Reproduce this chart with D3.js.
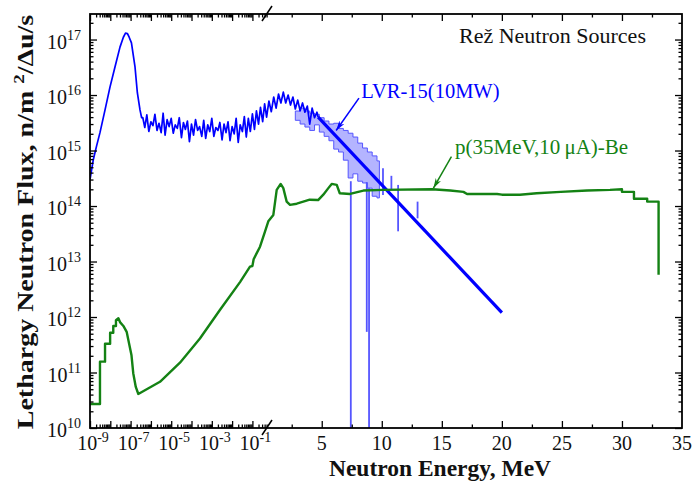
<!DOCTYPE html>
<html lang="en">
<head>
<meta charset="UTF-8">
<title>Rez Neutron Sources</title>
<script src="https://d3js.org/d3.v7.min.js"></script>
<style>
  body { margin: 0; background: #fff; }
  svg text { font-family: "Liberation Serif", "Times New Roman", serif; }
</style>
</head>
<body>
<div id="chart"></div>
<script>
// energies in MeV, flux in n/m^2/Δu/s

// LVR-15 reactor: thermal peak
var thermalE = [1e-9, 1.45e-9, 2.1e-9, 3.1e-9, 5.5e-9, 9.7e-9, 1.7e-8, 3.0e-8, 4.4e-8, 5.6e-8, 7.0e-8, 8.5e-8, 1.1e-7, 1.65e-7, 2.15e-7, 2.9e-7, 3.5e-7];
var thermalFlux = [3.0e14, 6.8e14, 1.2e15, 2.1e15, 5.4e15, 1.4e16, 3.2e16, 7.3e16, 1.1e17, 1.3e17, 1.28e17, 1.1e17, 8.7e16, 3.2e16, 1.1e16, 5.4e15, 3.9e15];

// LVR-15 reactor: epithermal plateau (noisy)
var epiE = [4.0e-7, 5.0e-7, 6.3e-7, 7.9e-7,
  1.0e-6, 1.26e-6, 1.58e-6, 2.0e-6, 2.5e-6, 3.2e-6, 4.0e-6, 5.0e-6, 6.3e-6, 7.9e-6,
  1.0e-5, 1.26e-5, 1.58e-5, 2.0e-5, 2.5e-5, 3.2e-5, 4.0e-5, 5.0e-5, 6.3e-5, 7.9e-5,
  1.0e-4, 1.26e-4, 1.58e-4, 2.0e-4, 2.5e-4, 3.2e-4, 4.0e-4, 5.0e-4, 6.3e-4, 7.9e-4,
  1.0e-3, 1.26e-3, 1.58e-3, 2.0e-3, 2.5e-3, 3.2e-3, 4.0e-3, 5.0e-3, 6.3e-3, 7.9e-3,
  1.0e-2, 1.26e-2, 1.58e-2, 2.0e-2, 2.5e-2, 3.2e-2, 4.0e-2, 5.0e-2, 6.3e-2, 7.9e-2,
  0.10, 0.126, 0.158, 0.20, 0.25, 0.32, 0.40, 0.50];
var epiFlux = [3.9e15, 2.6e15, 4.4e15, 2.2e15,
  3.3e15, 2.8e15, 4.5e15, 2.3e15, 3.1e15, 2.1e15, 4.7e15, 1.9e15, 3.6e15, 2.7e15,
  3.8e15, 2.05e15, 2.9e15, 2.5e15, 3.9e15, 1.7e15, 3.2e15, 2.4e15, 3.4e15, 1.45e15,
  3.0e15, 1.9e15, 3.6e15, 2.3e15, 2.7e15, 1.8e15, 3.5e15, 1.65e15, 2.9e15, 2.2e15,
  3.8e15, 1.8e15, 2.6e15, 2.3e15, 3.2e15, 1.55e15, 3.0e15, 2.1e15, 3.3e15, 1.5e15,
  2.7e15, 2.0e15, 3.8e15, 1.4e15, 2.9e15, 2.2e15, 4.1e15, 1.75e15, 3.8e15, 2.2e15,
  4.6e15, 2.4e15, 5.2e15, 3.0e15, 6.0e15, 3.3e15, 6.9e15, 4.0e15];

// LVR-15 reactor: fast part up to the fit line
var fastE = [0.6, 0.8, 1.0, 1.2, 1.4, 1.6, 1.8, 2.0, 2.2, 2.4, 2.6, 2.8, 3.0, 3.2, 3.4, 3.6, 3.8, 4.0, 4.2, 4.4, 4.6, 4.7];
var fastFlux = [7.8e15, 5.0e15, 9.2e15, 5.8e15, 1.04e16, 7.2e15, 1.13e16, 7.2e15, 1.0e16, 6.6e15, 9.2e15, 5.6e15, 8.1e15, 5.2e15, 7.2e15, 4.9e15, 6.3e15, 3.0e15, 5.8e15, 3.9e15, 4.9e15, 4.0e15];

// exponential fit of the fission tail
var fitE = [4.7, 20];
var fitFlux = [4.0e15, 1.2e12];

// uncertainty band of the measured fast spectrum
var bandE = [2.8, 3.2, 3.6, 4.0, 4.4, 4.8, 5.2, 5.6, 6.0, 6.4, 6.8, 7.2, 7.6, 8.0, 8.4, 8.8, 9.2, 9.6, 9.8];
var bandHigh = [5.15e15, 5.8e15, 5.15e15, 4.7e15, 4.5e15, 3.9e15, 3.4e15, 3.0e15, 3.1e15, 2.5e15, 2.3e15, 2.05e15, 1.75e15, 1.36e15, 1.11e15, 9.4e14, 8.0e14, 6.5e14, 6.5e14];
var bandLow = [3.5e15, 3.0e15, 2.65e15, 2.3e15, 2.9e15, 2.15e15, 1.8e15, 1.5e15, 1.06e15, 9.4e14, 6.7e14, 3.2e14, 3.8e14, 2.8e14, 2.6e14, 2.1e14, 1.5e14, 1.4e14, 1.4e14];

// dips of the band (vertical spikes)
var spikeE = [7.42, 8.75, 8.94, 10.1, 10.8, 11.36, 12.98];
var spikeTop = [2.8e14, 2.7e14, 2.1e14, 4.8e14, 3.5e14, 2.4e14, 1.2e14];
var spikeBottom = [1e10, 5.4e11, 1e10, 1.58e14, 1.95e14, 3.5e13, 6.0e13];

// p(35MeV,10uA)-Be source
var pbeE = [1e-9, 3.1e-9, 3.1e-9, 5.5e-9, 5.5e-9, 9.8e-9, 9.8e-9, 1.4e-8, 1.4e-8, 1.9e-8, 1.9e-8, 2.5e-8, 3.0e-8, 4.4e-8, 6.4e-8, 7.7e-8, 1.1e-7, 1.35e-7, 1.8e-7, 2.4e-7,
  2.8e-6, 2.7e-5, 2.6e-4, 2.5e-3, 0.025, 0.076, 0.10, 0.115, 0.237, 0.42,
  0.55, 0.97, 1.25, 1.58, 1.8, 2.08, 2.36, 2.92, 4.0, 4.7, 5.13, 5.55, 5.83, 6.25, 6.5, 7.36, 8.47, 10.1,
  14.2, 15.7, 16.8, 17.1, 19.6, 20.0, 21.5, 22.9, 24.9, 27.1, 29.0, 30.0, 30.0, 31.0, 31.0, 32.1, 32.1, 33.05, 33.05];
var pbeFlux = [2.7e10, 2.7e10, 1.57e11, 1.57e11, 3.3e11, 3.3e11, 5.2e11, 5.2e11, 6.9e11, 6.9e11, 8.8e11, 9.5e11, 8.1e11, 6.9e11, 5.4e11, 3.9e11, 2.07e11, 9.7e10, 5.5e10, 4.1e10,
  6.8e10, 1.5e11, 4.1e11, 1.34e12, 4.3e12, 8.1e12, 8.3e12, 1.1e13, 1.85e13, 3.5e13,
  5.3e13, 6.9e13, 1.95e14, 2.5e14, 2.1e14, 1.2e14, 1.05e14, 1.1e14, 1.3e14, 1.28e14, 1.6e14, 2.1e14, 2.5e14, 2.4e14, 1.7e14, 1.65e14, 1.9e14, 1.95e14,
  2.0e14, 1.9e14, 1.8e14, 1.65e14, 1.65e14, 1.6e14, 1.6e14, 1.7e14, 1.8e14, 1.9e14, 1.95e14, 2.0e14, 1.8e14, 1.8e14, 1.35e14, 1.35e14, 1.2e14, 1.2e14, 5.8e12];

// axis ticks
var logMajor = [1e-9, 1e-8, 1e-7, 1e-6, 1e-5, 1e-4, 1e-3, 1e-2, 1e-1];
var logLabels = [-9, -7, -5, -3, -1];
var linMajor = [5, 10, 15, 20, 25, 30, 35];
var linMinor = [2.5, 7.5, 12.5, 17.5, 22.5, 27.5, 32.5];
var yMajorExp = [10, 11, 12, 13, 14, 15, 16, 17];

var width = 692, height = 485;
var L = 90, R = 682, T = 14, B = 428;
var eBreak = 0.5, xBreak = 267;

var svg = d3.select("#chart").append("svg")
  .attr("width", width)
  .attr("height", height);

// broken x axis: log up to 0.5 MeV, linear after
var xLog = d3.scaleLog().domain([1e-9, eBreak]).range([L, 266.6]);
var xLin = d3.scaleLinear().domain([eBreak, 35]).range([267.7, R]);
var y = d3.scaleLog().domain([1e10, Math.pow(10, 17.46)]).range([B, T]);
function xPos(e) { return e <= eBreak ? xLog(e) : xLin(e); }

var blue = "#0000ff", lightBlue = "#5555ff", green = "#148214";

var defs = svg.append("defs");
defs.append("clipPath").attr("id", "plot")
  .append("rect").attr("x", L).attr("y", T).attr("width", R - L).attr("height", B - T);
function marker(id, color) {
  defs.append("marker").attr("id", id)
    .attr("viewBox", "0 0 10 6").attr("refX", 10).attr("refY", 3)
    .attr("markerWidth", 10).attr("markerHeight", 6)
    .attr("markerUnits", "userSpaceOnUse").attr("orient", "auto")
    .append("path").attr("d", "M0,0L10,3L0,6L3,3Z").attr("fill", color);
}
marker("arrBlue", blue);
marker("arrGreen", green);

function pairs(es, fs) { return es.map(function(e, i) { return [e, fs[i]]; }); }

var line = d3.line().x(function(d) { return xPos(d[0]); }).y(function(d) { return y(d[1]); });

var plot = svg.append("g").attr("clip-path", "url(#plot)");

// band
var bandData = bandE.map(function(e, i) { return [e, bandHigh[i], bandLow[i]]; });
var area = d3.area().curve(d3.curveStepAfter)
  .x(function(d) { return xPos(d[0]); })
  .y0(function(d) { return y(d[2]); })
  .y1(function(d) { return y(d[1]); });
plot.append("path").datum(bandData).attr("d", area)
  .attr("fill", "#b4b4ff").attr("stroke", lightBlue).attr("stroke-width", 1);

// spikes
plot.selectAll("line.spike").data(spikeE).enter().append("line")
  .attr("class", "spike")
  .attr("x1", function(d) { return xPos(d); }).attr("x2", function(d) { return xPos(d); })
  .attr("y1", function(d, i) { return y(spikeTop[i]); })
  .attr("y2", function(d, i) { return y(spikeBottom[i]); })
  .attr("stroke", lightBlue).attr("stroke-width", 1.8);

// reactor spectrum
var lvr = pairs(thermalE, thermalFlux).concat(pairs(epiE, epiFlux), pairs(fastE, fastFlux));
plot.append("path").datum(lvr).attr("d", line)
  .attr("fill", "none").attr("stroke", blue).attr("stroke-width", 1.7).attr("stroke-linejoin", "round");

// fit line
plot.append("path").datum(pairs(fitE, fitFlux)).attr("d", line)
  .attr("fill", "none").attr("stroke", blue).attr("stroke-width", 3.2);

// p-Be
plot.append("path").datum(pairs(pbeE, pbeFlux)).attr("d", line)
  .attr("fill", "none").attr("stroke", green).attr("stroke-width", 2.4).attr("stroke-linejoin", "round");

// axes (ticks inward)
function minorLog(lo, hi, maxV) {
  var out = [];
  for (var p = lo; p <= hi; p++) for (var m = 2; m <= 9; m++) {
    var v = m * Math.pow(10, p);
    if (v <= maxV) out.push(v);
  }
  return out;
}
var logMinor = minorLog(-9, -1, eBreak);
var yMajor = yMajorExp.map(function(p) { return Math.pow(10, p); });
var yMinor = minorLog(10, 17, Math.pow(10, 17.46));

function drawAxis(gen, tx, ty, vals, size) {
  var g = svg.append("g").attr("transform", "translate(" + tx + "," + ty + ")")
    .call(gen.tickValues(vals).tickSize(-size).tickFormat(""));
  g.select(".domain").remove();
  g.selectAll("line").attr("stroke", "#000").attr("stroke-width", 1.3);
}
drawAxis(d3.axisBottom(xLog), 0, B, logMajor, 7);
drawAxis(d3.axisBottom(xLog), 0, B, logMinor, 3.5);
drawAxis(d3.axisTop(xLog), 0, T, logMajor, 7);
drawAxis(d3.axisTop(xLog), 0, T, logMinor, 3.5);
drawAxis(d3.axisBottom(xLin), 0, B, linMajor.slice(0, -1), 7);
drawAxis(d3.axisBottom(xLin), 0, B, linMinor, 3.5);
drawAxis(d3.axisTop(xLin), 0, T, linMajor.slice(0, -1), 7);
drawAxis(d3.axisTop(xLin), 0, T, linMinor, 3.5);
drawAxis(d3.axisLeft(y), L, 0, yMajor, 7);
drawAxis(d3.axisLeft(y), L, 0, yMinor, 3.5);
drawAxis(d3.axisRight(y), R, 0, yMajor, 7);
drawAxis(d3.axisRight(y), R, 0, yMinor, 3.5);

svg.append("rect").attr("x", L).attr("y", T).attr("width", R - L).attr("height", B - T)
  .attr("fill", "none").attr("stroke", "#000").attr("stroke-width", 1.8);

// break marks
[T, B].forEach(function(yy) {
  svg.append("line").attr("x1", xBreak - 5).attr("y1", yy + 7).attr("x2", xBreak + 5).attr("y2", yy - 8)
    .attr("stroke", "#000").attr("stroke-width", 1.5);
});

// tick labels
logLabels.forEach(function(p) {
  var t = svg.append("text").attr("x", xLog(Math.pow(10, p)) + 3).attr("y", 450)
    .attr("text-anchor", "middle").attr("font-size", 20).attr("fill", "#111");
  t.append("tspan").text("10");
  t.append("tspan").attr("dy", -8).attr("font-size", 14).text(p);
});
linMajor.forEach(function(v) {
  svg.append("text").attr("x", xLin(v)).attr("y", 450)
    .attr("text-anchor", "middle").attr("font-size", 20).attr("fill", "#111").text(v);
});
yMajorExp.forEach(function(p) {
  var t = svg.append("text").attr("x", 81).attr("y", y(Math.pow(10, p)) + 9)
    .attr("text-anchor", "end").attr("font-size", 20).attr("fill", "#111");
  t.append("tspan").text("10");
  t.append("tspan").attr("dy", -9).attr("font-size", 14).text(p);
});

// axis titles
svg.append("text").attr("x", 440).attr("y", 476).attr("text-anchor", "middle")
  .attr("font-size", 23.5).attr("font-weight", "bold").attr("fill", "#111")
  .text("Neutron Energy, MeV");
var yt = svg.append("text").attr("transform", "translate(33,222) rotate(-90) scale(1,0.8)")
  .attr("text-anchor", "middle").attr("font-size", 28).attr("font-weight", "bold").attr("fill", "#111");
yt.append("tspan").text("Lethargy Neutron Flux,  n/m ");
yt.append("tspan").attr("dy", -11).attr("font-size", 19).text("2");
yt.append("tspan").attr("dy", 11).text("/\u0394u/s");

// title and annotations
svg.append("text").attr("x", 459).attr("y", 43).attr("font-size", 22).attr("fill", "#111")
  .text("Re\u017e Neutron Sources");

svg.append("line")
  .attr("x1", xLin(8.1)).attr("y1", y(8.8e15)).attr("x2", xLin(6.2)).attr("y2", y(2.3e15))
  .attr("stroke", blue).attr("stroke-width", 1.5).attr("marker-end", "url(#arrBlue)");
svg.append("text").attr("x", xLin(8.3)).attr("y", y(8.8e15)).attr("font-size", 20.5).attr("fill", blue)
  .text("LVR-15(10MW)");

svg.append("line")
  .attr("x1", xLin(15.8)).attr("y1", y(7.8e14)).attr("x2", xLin(14.3)).attr("y2", y(2.1e14))
  .attr("stroke", green).attr("stroke-width", 1.5).attr("marker-end", "url(#arrGreen)");
svg.append("text").attr("x", xLin(16.1)).attr("y", y(8.7e14)).attr("font-size", 21).attr("fill", green)
  .text("p(35MeV,10\u2009\u03bcA)-Be");
</script>
</body>
</html>
